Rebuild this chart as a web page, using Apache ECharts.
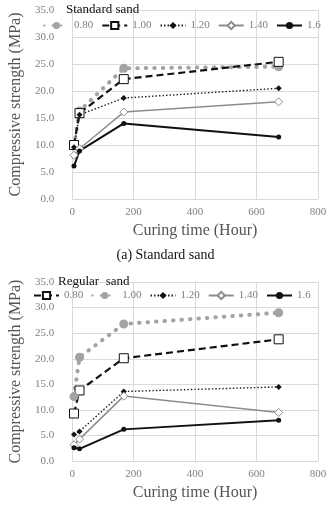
<!DOCTYPE html>
<html>
<head>
<meta charset="utf-8">
<script src="https://cdn.jsdelivr.net/npm/echarts@6/dist/echarts.min.js"></script>
<style>
  body { margin: 0; background: #fff; }
  #chartTop { position: absolute; left: 0; top: 0; width: 331px; height: 262px; }
  #chartBottom { position: absolute; left: 0; top: 262px; width: 331px; height: 244px; }
</style>
</head>
<body>
<div id="chartTop"></div>
<div id="chartBottom"></div>
<script>
  // curing times (hours)
  let hours = [6, 24, 168, 672]
  let ratioNames = ['0.80', '1.00', '1.20', '1.40', '1.6']

  // standard sand
  let std080 = [9.8, 16.3, 24.2, 24.5]
  let std100 = [10.0, 15.9, 22.2, 25.4]
  let std120 = [9.6, 15.6, 18.7, 20.5]
  let std140 = [8.1, 9.3, 16.1, 18.0]
  let std160 = [6.1, 8.9, 14.0, 11.5]

  // regular sand
  let reg080 = [9.3, 13.8, 20.1, 23.8]
  let reg100 = [12.6, 20.3, 26.8, 29.0]
  let reg120 = [5.2, 5.8, 13.6, 14.5]
  let reg140 = [3.2, 4.3, 12.7, 9.5]
  let reg160 = [2.6, 2.4, 6.2, 8.0]

  let font = 'Liberation Serif'

  // line looks
  let grayDots = {
    line: { color: '#a3a3a3', width: 4, type: [0.5, 8], cap: 'round' },
    symbol: 'circle', size: 9, item: { color: '#a3a3a3' }
  }
  let blackDashSquare = {
    line: { color: '#111', width: 2.2, type: [7, 4] },
    symbol: 'rect', size: 9, item: { color: '#fff', borderColor: '#111', borderWidth: 1 }
  }
  let blackDotDiamond = {
    line: { color: '#222', width: 1.4, type: [1.5, 2] },
    symbol: 'diamond', size: 6, item: { color: '#111' }
  }
  let grayOpenDiamond = {
    line: { color: '#8c8c8c', width: 1.5, type: 'solid' },
    symbol: 'diamond', size: 8, item: { color: '#fff', borderColor: '#8c8c8c', borderWidth: 1 }
  }
  let blackSolidDot = {
    line: { color: '#111', width: 2, type: 'solid' },
    symbol: 'circle', size: 5, item: { color: '#111' }
  }

  function makeSeries(name, vals, look) {
    return {
      name: name,
      type: 'line',
      data: hours.map((h, i) => [h, vals[i]]),
      symbol: look.symbol,
      symbolSize: look.size,
      showSymbol: true,
      lineStyle: look.line,
      itemStyle: look.item,
      z: 3
    }
  }

  function baseOption(cfg) {
    return {
      animation: false,
      title: cfg.titles,
      legend: {
        left: cfg.legendLeft,
        top: cfg.legendTop,
        width: 300,
        padding: 0,
        itemWidth: 25,
        itemHeight: 9,
        itemGap: 8,
        data: ratioNames,
        textStyle: { fontFamily: font, fontSize: 11, color: '#808080' }
      },
      grid: { left: 57, right: 13, top: cfg.gridTop, height: 189 },
      xAxis: {
        type: 'value',
        min: 0, max: 800, interval: 200,
        name: 'Curing time (Hour)',
        nameLocation: 'middle',
        nameGap: 19,
        nameTextStyle: { fontFamily: font, fontSize: 16, color: '#555' },
        axisLine: { show: false },
        axisTick: { show: false },
        axisLabel: { fontFamily: font, fontSize: 11, color: '#808080', margin: 8 },
        splitLine: { show: true, lineStyle: { color: '#dadada', width: 1 } }
      },
      yAxis: {
        type: 'value',
        min: 0, max: 35, interval: 5,
        name: 'Compressive strength (MPa)',
        nameLocation: 'middle',
        nameGap: 40,
        nameTextStyle: { fontFamily: font, fontSize: 16, color: '#555' },
        axisLine: { show: false },
        axisTick: { show: false },
        axisLabel: {
          fontFamily: font, fontSize: 11, color: '#808080', margin: 18,
          formatter: v => v.toFixed(1)
        },
        splitLine: { show: true, lineStyle: { color: '#dadada', width: 1 } }
      },
      series: cfg.series
    }
  }

  let topChart = echarts.init(document.getElementById('chartTop'))
  topChart.setOption(baseOption({
    gridTop: 10,
    legendLeft: 43,
    legendTop: 20,
    titles: [
      { text: 'Standard sand', left: 66, top: 3, padding: 0,
        textStyle: { fontFamily: font, fontSize: 13, fontWeight: 'normal', color: '#111' } },
      { text: '(a) Standard sand', left: 'center', top: 248, padding: 0,
        textStyle: { fontFamily: font, fontSize: 14, fontWeight: 'normal', color: '#111' } }
    ],
    series: [
      makeSeries('0.80', std080, grayDots),
      makeSeries('1.00', std100, blackDashSquare),
      makeSeries('1.20', std120, blackDotDiamond),
      makeSeries('1.40', std140, grayOpenDiamond),
      makeSeries('1.6', std160, blackSolidDot)
    ]
  }))

  let bottomChart = echarts.init(document.getElementById('chartBottom'))
  bottomChart.setOption(baseOption({
    gridTop: 20,
    legendLeft: 33,
    legendTop: 28,
    titles: [
      { text: 'Regular  sand', left: 58, top: 13, padding: 0,
        textStyle: { fontFamily: font, fontSize: 13, fontWeight: 'normal', color: '#111' } }
    ],
    series: [
      makeSeries('0.80', reg080, blackDashSquare),
      makeSeries('1.00', reg100, grayDots),
      makeSeries('1.20', reg120, blackDotDiamond),
      makeSeries('1.40', reg140, grayOpenDiamond),
      makeSeries('1.6', reg160, blackSolidDot)
    ]
  }))
</script>
</body>
</html>
